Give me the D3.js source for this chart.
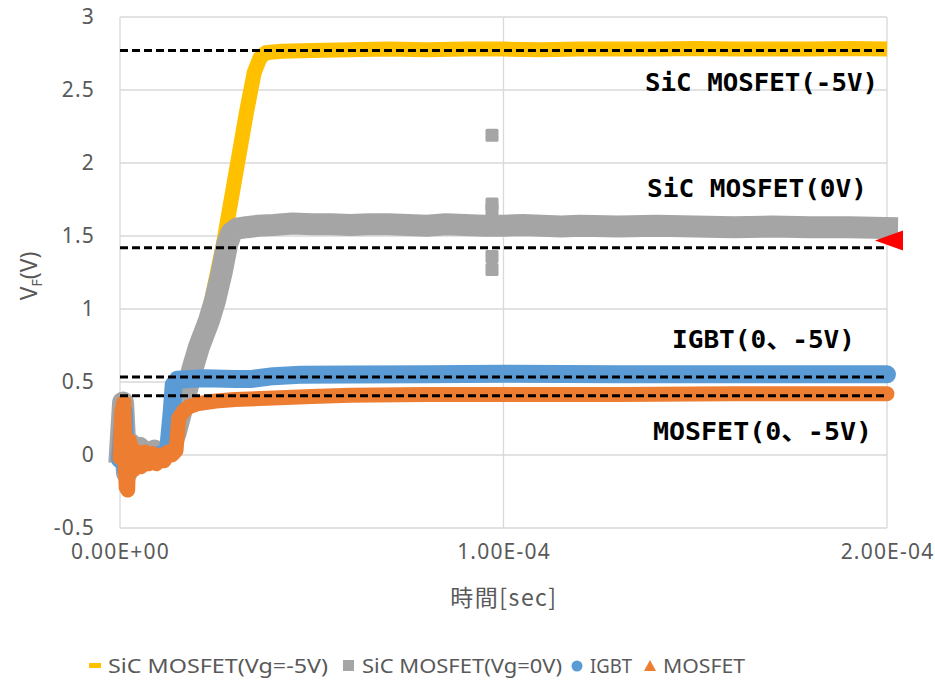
<!DOCTYPE html>
<html><head><meta charset="utf-8">
<script src="https://cdn.jsdelivr.net/npm/d3@7"></script>
<style>
html,body{margin:0;padding:0;background:#fff;}
svg{display:block;}
</style>
</head><body>
<svg id="chart" width="935" height="684"></svg>
<script>
// ---- DATA (time in microseconds, VF in volts) ----
const seriesNames = ["SiC MOSFET(Vg=-5V)", "SiC MOSFET(Vg=0V)", "IGBT", "MOSFET"];
const sicM5_t = [0,1,1.5,3,6,10,13,15,17,19,21,23,25,27,29,31,33,35,36.5,38,42,50,60,70,80,90,100,110,120,130,140,150,160,170,180,190,200];
const sicM5_v = [0,0.33,-0.15,0.05,0,0.02,0.05,0.2,0.45,0.62,0.78,0.95,1.2,1.45,1.75,2.05,2.35,2.62,2.72,2.755,2.765,2.77,2.775,2.78,2.775,2.78,2.78,2.775,2.78,2.78,2.78,2.785,2.78,2.78,2.78,2.785,2.78];
const sic0_t = [0,0.8,1.3,1.8,2.5,3.5,5,7,9,11,13,14.5,16,18,19,20.6,23.2,24.8,26.5,28,29,30.5,33,36,40,45,50,55,60,65,70,75,80,85,90,95,100,105,110,115,120,130,140,150,160,170,180,190,200];
const sic0_v = [0.02,0.36,0.1,-0.12,0.08,-0.04,0.05,0.0,0.03,0.0,0.05,0.15,0.3,0.5,0.6,0.74,0.92,1.06,1.25,1.45,1.52,1.55,1.56,1.57,1.575,1.585,1.58,1.58,1.575,1.58,1.58,1.575,1.57,1.58,1.575,1.57,1.57,1.575,1.57,1.565,1.57,1.565,1.57,1.565,1.56,1.565,1.56,1.56,1.555];
const sic0Outlier_t = [97,97,97,97,97];
const sic0Outlier_v = [2.19,1.72,1.68,1.36,1.27];
const igbt_t = [0,1,1.5,3,6,10,12.5,13.5,14,15,18,22,30,34,40,47,60,80,100,130,160,200];
const igbt_v = [-0.03,0.3,-0.1,0.0,-0.02,0.0,0.02,0.3,0.48,0.515,0.52,0.525,0.52,0.52,0.54,0.55,0.552,0.553,0.556,0.553,0.553,0.553];
const mos_t = [0,0.5,1,1.3,1.6,2,2.4,3,3.5,4.5,5.5,6.5,7.5,8.5,9.5,10.5,11.5,12.5,13.5,14.6,15.3,16.5,18,20,25,30,40,50,60,80,100,130,160,200];
const mos_v = [-0.02,0.3,0.36,0.0,-0.22,-0.24,0.1,0.05,-0.1,0.02,-0.08,0.02,-0.06,0.01,-0.06,0.0,-0.04,0.02,0.0,0.03,0.25,0.3,0.33,0.35,0.37,0.38,0.39,0.40,0.41,0.415,0.415,0.415,0.42,0.42];
// reference dashed levels and labels
const refLevels = [2.77, 1.42, 0.535, 0.405];
const refLabels = ["SiC MOSFET(-5V)", "SiC MOSFET(0V)", "IGBT(0、-5V)", "MOSFET(0、-5V)"];
const refLabelVals = [2.49, 1.765, 0.73, 0.1];
const markerLevel = [1.47];
// axes
const yTicks = [-0.5, 0, 0.5, 1, 1.5, 2, 2.5, 3];
const xTicks = [0, 100, 200];
const xTickLabels = ["0.00E+00", "1.00E-04", "2.00E-04"];
const xTitle = "時間[sec]";
const colors = ["#FFC000", "#A5A5A5", "#5B9BD5", "#ED7D31"];

// ---- CHART ----
const svg = d3.select("#chart");
const x = d3.scaleLinear().domain([0, 200]).range([120, 887]);
const y = d3.scaleLinear().domain([-0.5, 3]).range([528, 17]);
const tickFont = "'Noto Sans', 'DejaVu Sans', sans-serif";

// grid
const grid = svg.append("g");
grid.selectAll("line.h").data(yTicks).join("line")
  .attr("x1", x(0)).attr("x2", x(200))
  .attr("y1", d => y(d)).attr("y2", d => y(d))
  .attr("stroke", "#d9d9d9").attr("stroke-width", 1.3);
grid.selectAll("line.v").data(xTicks).join("line")
  .attr("x1", d => x(d)).attr("x2", d => x(d))
  .attr("y1", y(3)).attr("y2", y(-0.5))
  .attr("stroke", "#d9d9d9").attr("stroke-width", 1.3);

// axis tick labels via d3 axes
const yAxis = d3.axisLeft(y).tickValues(yTicks).tickSize(0).tickPadding(25)
  .tickFormat(d => String(d));
const gy = svg.append("g").attr("transform", `translate(${x(0)},0)`).call(yAxis);
gy.select(".domain").remove();
gy.selectAll("text").attr("font-family", tickFont).attr("font-size", 21).attr("letter-spacing", 1.2).attr("fill", "#595959");

const xAxis = d3.axisBottom(x).tickValues(xTicks).tickSize(0).tickPadding(16)
  .tickFormat((d, i) => xTickLabels[i]);
const gx = svg.append("g").attr("transform", `translate(0,${y(-0.5)})`).call(xAxis);
gx.select(".domain").remove();
gx.selectAll("text").attr("font-family", tickFont).attr("font-size", 21).attr("letter-spacing", 1.2).attr("fill", "#595959");

// titles
svg.append("text").attr("x", 504).attr("y", 606).attr("text-anchor", "middle")
  .attr("font-family", "'Noto Sans CJK JP', sans-serif").attr("font-size", 23).attr("letter-spacing", 1.5).attr("fill", "#595959")
  .text(xTitle);
const yt = svg.append("text").attr("transform", "translate(37,276) rotate(-90)")
  .attr("text-anchor", "middle").attr("font-family", tickFont).attr("font-size", 23).attr("fill", "#595959");
yt.append("tspan").text("V");
yt.append("tspan").attr("font-size", 14).attr("dy", 5).text("F");
yt.append("tspan").attr("dy", -5).text("(V)");

// series
const zip = (ts, vs) => ts.map((t, i) => [t, vs[i]]);
const series = [
  {pts: zip(sicM5_t, sicM5_v), w: 15, cap: "butt"},
  {pts: zip(sic0_t, sic0_v), w: 22, cap: "square"},
  {pts: zip(igbt_t, igbt_v), w: 18, cap: "round"},
  {pts: zip(mos_t, mos_v), w: 15, cap: "round"}
];
const line = d3.line().x(d => x(d[0])).y(d => y(d[1]));
const gs = svg.append("g");
series.forEach((s, i) => {
  gs.append("path").attr("d", line(s.pts)).attr("fill", "none")
    .attr("stroke", colors[i]).attr("stroke-width", s.w)
    .attr("stroke-linejoin", "round").attr("stroke-linecap", s.cap);
  if (i === 1) {
    gs.selectAll("rect.out").data(zip(sic0Outlier_t, sic0Outlier_v)).join("rect")
      .attr("x", d => x(d[0]) - 6.5).attr("y", d => y(d[1]) - 6.5)
      .attr("width", 13).attr("height", 13).attr("rx", 1.5).attr("fill", colors[1]);
  }
});

// dashed reference lines
svg.append("g").selectAll("line").data(refLevels).join("line")
  .attr("x1", x(0)).attr("x2", x(200))
  .attr("y1", d => y(d)).attr("y2", d => y(d))
  .attr("stroke", "#000").attr("stroke-width", 3).attr("stroke-dasharray", "8,4");

// annotations
const labelWidths = [233, 220, 183, 219];
svg.append("g").selectAll("text").data(refLabels).join("text")
  .attr("x", (d, i) => [878, 867, 855, 872][i] - labelWidths[i])
  .attr("y", (d, i) => y(refLabelVals[i]))
  .attr("textLength", (d, i) => labelWidths[i]).attr("lengthAdjust", "spacingAndGlyphs")
  .attr("font-family", "'DejaVu Sans Mono', 'Noto Sans CJK JP', monospace")
  .attr("font-weight", "bold").attr("font-size", 25).attr("fill", "#000")
  .text(d => d);

// red marker triangle
svg.append("path")
  .attr("d", `M${x(200) - 12},${y(markerLevel[0])} L${x(200) + 16},${y(markerLevel[0]) - 10} L${x(200) + 16},${y(markerLevel[0]) + 10} Z`)
  .attr("fill", "#FF0000");

// legend
const leg = svg.append("g").attr("font-family", tickFont).attr("font-size", 20).attr("fill", "#595959");
const legX = [108, 362, 590, 663];
const legW = [220, 200, 42, 82];
seriesNames.forEach((n, i) => {
  const g = leg.append("g").attr("transform", `translate(${legX[i]},666)`);
  g.append("text").attr("x", 0).attr("y", 7).attr("textLength", legW[i]).attr("lengthAdjust", "spacingAndGlyphs").text(n);
  if (i === 0) g.append("rect").attr("x", -19).attr("y", -3).attr("width", 12).attr("height", 5).attr("fill", colors[0]);
  if (i === 1) g.append("rect").attr("x", -19).attr("y", -6).attr("width", 11).attr("height", 11).attr("fill", colors[1]);
  if (i === 2) g.append("circle").attr("cx", -13).attr("cy", 0).attr("r", 5.5).attr("fill", colors[2]);
  if (i === 3) g.append("path").attr("d", "M-13,-6 L-7,5 L-19,5 Z").attr("fill", colors[3]);
});
</script>
</body></html>
